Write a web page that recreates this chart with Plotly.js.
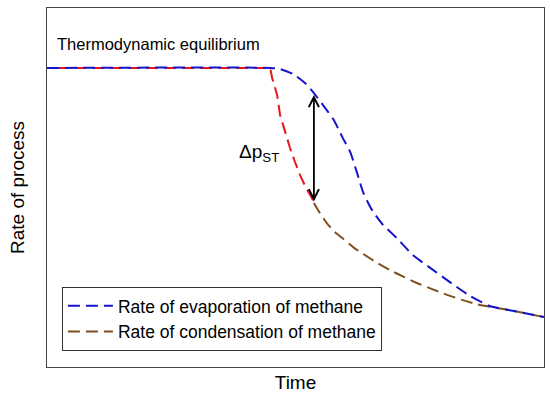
<!DOCTYPE html>
<html>
<head>
<meta charset="utf-8">
<script src="https://cdn.plot.ly/plotly-3.0.1.min.js"></script>
<style>
  html, body { margin: 0; padding: 0; background: #fff; }
  #plot { width: 550px; height: 401px; }
</style>
</head>
<body>
<div id="plot"></div>
<script>
// Rate curves, arbitrary units (time 0-10, rate 0-10)
const evapTime = [0, 4.49, 4.69, 4.95, 5.19, 5.37, 5.55, 5.77, 5.94, 6.10, 6.24, 6.36, 6.54, 6.76, 7.04, 7.36, 7.71, 8.05, 8.51, 8.91, 9.28, 9.62, 10];
const evapRate = [8.33, 8.33, 8.30, 8.16, 7.91, 7.63, 7.30, 6.88, 6.41, 5.99, 5.40, 4.87, 4.37, 3.96, 3.59, 3.12, 2.76, 2.42, 1.98, 1.70, 1.59, 1.50, 1.39];

// initial drop of condensation rate (red part, starts a bit left so dashes interleave)
const dropTime = [-0.18, 4.49, 4.53, 4.63, 4.69, 4.79, 4.89, 4.99, 5.09, 5.21, 5.33, 5.37];
const dropRate = [8.33, 8.33, 8.05, 7.58, 7.02, 6.55, 6.10, 5.71, 5.35, 4.99, 4.71, 4.57];

const condTime = [5.37, 5.49, 5.63, 5.79, 5.96, 6.16, 6.36, 6.62, 6.90, 7.18, 7.44, 7.75, 8.05, 8.35, 8.65, 8.95, 9.28, 9.62, 10];
const condRate = [4.57, 4.29, 4.01, 3.76, 3.57, 3.34, 3.15, 2.92, 2.70, 2.51, 2.34, 2.17, 2.01, 1.87, 1.75, 1.67, 1.59, 1.50, 1.39];

// delta p arrow between the two curves
const arrowTime = 5.37;
const arrowTop = 7.58;
const arrowBottom = 4.57;

const font = "Liberation Sans, Arial, sans-serif";
const dash = "12px,6px";

const traces = [
    {
        x: dropTime, y: dropRate, mode: "lines", type: "scatter",
        line: { color: "#e8141e", width: 2, dash: dash },
        showlegend: false, hoverinfo: "skip"
    },
    {
        x: condTime, y: condRate, mode: "lines", type: "scatter",
        name: "Rate of condensation of methane",
        line: { color: "#7f4f1f", width: 2, dash: dash, shape: "spline", smoothing: 0.6 },
        legendrank: 2
    },
    {
        x: evapTime, y: evapRate, mode: "lines", type: "scatter",
        name: "Rate of evaporation of methane",
        line: { color: "#1414cc", width: 2, dash: dash, shape: "spline", smoothing: 0.6 },
        legendrank: 1
    }
];

const axisStyle = {
    range: [0, 10],
    showgrid: false, zeroline: false,
    showticklabels: false, ticks: "",
    showline: true, mirror: true,
    linecolor: "#444", linewidth: 1
};

const layout = {
    width: 550, height: 401,
    margin: { l: 47, r: 6, t: 8, b: 34 },
    paper_bgcolor: "#fff", plot_bgcolor: "#fff",
    font: { family: font, color: "#000" },
    xaxis: Object.assign({}, axisStyle, {
        title: { text: "Time", font: { size: 19 }, standoff: 8 }
    }),
    yaxis: Object.assign({}, axisStyle, {
        title: { text: "Rate of process", font: { size: 19 }, standoff: 16 }
    }),
    legend: {
        x: 0.03, y: 0.223, xanchor: "left", yanchor: "top",
        bgcolor: "#fff", bordercolor: "#333", borderwidth: 1,
        font: { size: 17.5 }, traceorder: "normal", itemwidth: 45
    },
    annotations: [
        {
            x: 0.16, y: 9.0, xref: "x", yref: "y",
            text: "Thermodynamic equilibrium", showarrow: false,
            xanchor: "left", yanchor: "middle", font: { size: 16.5 }
        },
        {
            x: 3.82, y: 5.96, xref: "x", yref: "y",
            text: "Δp<sub>ST</sub>", showarrow: false,
            xanchor: "left", yanchor: "middle", font: { size: 19 }
        },
        {
            x: arrowTime, y: arrowTop, ax: arrowTime, ay: arrowBottom,
            xref: "x", yref: "y", axref: "x", ayref: "y",
            text: "", showarrow: true,
            arrowside: "end+start", arrowhead: 5, startarrowhead: 5,
            arrowsize: 1.1, startarrowsize: 1.1, arrowwidth: 1.8, arrowcolor: "#000"
        }
    ]
};

Plotly.newPlot("plot", traces, layout, { displayModeBar: false, staticPlot: true });
</script>
</body>
</html>
